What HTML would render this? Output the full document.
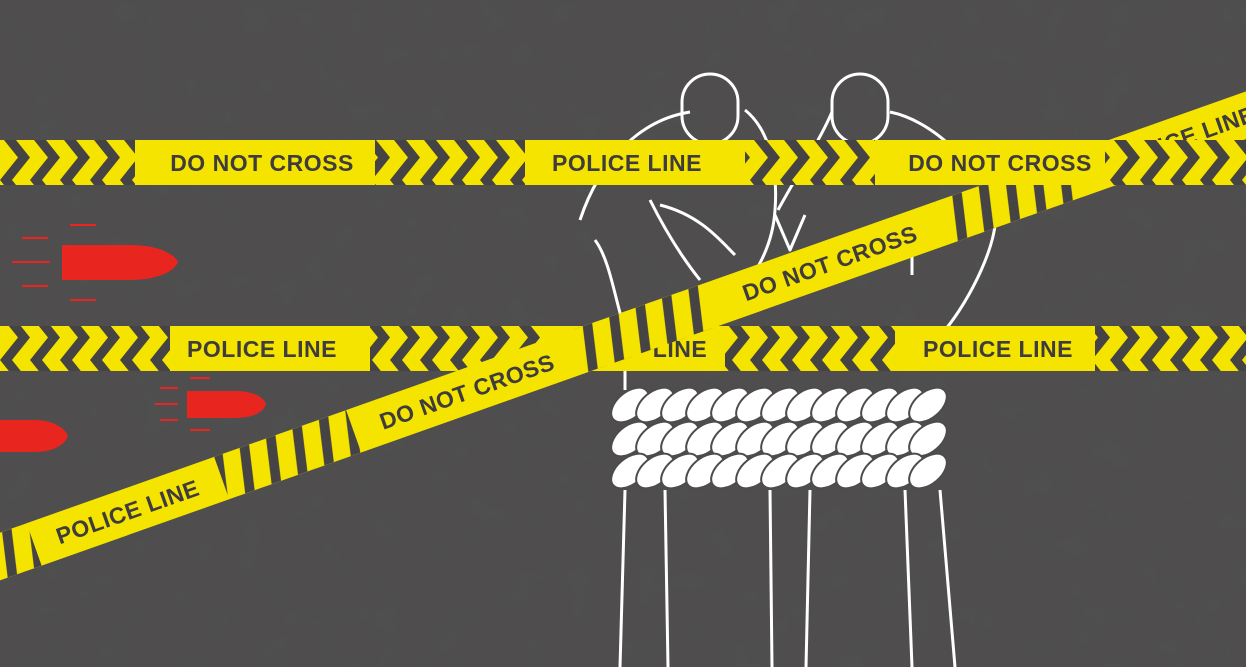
<!DOCTYPE html>
<html><head><meta charset="utf-8"><style>
html,body{margin:0;padding:0;background:#4a4849;}
svg{display:block}
text{font-family:"Liberation Sans",sans-serif;font-weight:bold;fill:#3e3c3d;letter-spacing:0.5px;}
</style></head><body>
<svg width="1246" height="667" viewBox="0 0 1246 667" xmlns="http://www.w3.org/2000/svg">
<defs>
<filter id="g"><feTurbulence type="fractalNoise" baseFrequency="0.03" numOctaves="5" seed="7"/><feColorMatrix values="0 0 0 0 0.08  0 0 0 0 0.08  0 0 0 0 0.08  0 0 0 -4 2.1"/></filter>
<pattern id="chev" width="30" height="45" patternUnits="userSpaceOnUse"><polygon points="0,0 12,0 30,22.5 12,45 0,45 18,22.5" fill="#454344"/></pattern>
<pattern id="diag" width="28" height="45" patternUnits="userSpaceOnUse"><polygon points="10,0 20,0 10,45 0,45" fill="#454344"/></pattern>
</defs>
<rect width="1246" height="667" fill="#4f4d4e"/>
<rect width="1246" height="667" filter="url(#g)" opacity="0.7"/>

<g fill="#e8261f">
<path d="M62,245 H130 C160,245 175,255 178,262 C175,270 160,280 130,280 H62Z"/>
<path d="M187,391 H235 C255,391 264,398 266,404 C264,411 255,418 235,418 H187Z"/>
<path d="M0,420 H35 C55,420 66,430 68,436 C66,443 55,452 35,452 H0Z"/>
</g>
<g stroke="#e8261f" stroke-width="2">
<line x1="22" y1="238" x2="48" y2="238"/><line x1="12" y1="262" x2="50" y2="262"/><line x1="22" y1="286" x2="48" y2="286"/>
<line x1="70" y1="225" x2="96" y2="225"/><line x1="70" y1="300" x2="96" y2="300"/>
<line x1="155" y1="404" x2="178" y2="404"/><line x1="160" y1="388" x2="178" y2="388"/><line x1="160" y1="420" x2="178" y2="420"/>
<line x1="190" y1="378" x2="210" y2="378"/><line x1="190" y1="430" x2="210" y2="430"/>
</g>

<g fill="none" stroke="#fff" stroke-width="3" stroke-linejoin="round">
<rect x="682" y="74" width="56" height="70" rx="28"/>
<rect x="832" y="74" width="56" height="70" rx="28"/>
<path d="M580,220 C600,160 640,120 690,112"/>
<path d="M595,240 C610,260 615,300 625,330 L625,390"/>
<path d="M650,200 C665,230 680,255 700,280"/>
<path d="M745,110 C770,130 778,170 775,210 C772,260 740,300 700,330"/>
<path d="M778,210 C800,170 820,140 832,112"/>
<path d="M890,112 C930,120 975,160 995,210 C1000,240 970,300 945,330"/>
<path d="M775,215 L790,250 L805,215"/>
<path d="M660,205 C700,215 720,240 735,255"/>
<path d="M912,230 L912,275"/>
<line x1="625" y1="490" x2="620" y2="667"/><line x1="665" y1="490" x2="668" y2="667"/>
<line x1="770" y1="490" x2="772" y2="667"/><line x1="810" y1="490" x2="806" y2="667"/>
<line x1="905" y1="490" x2="912" y2="667"/><line x1="940" y1="490" x2="955" y2="667"/>
</g>
<g fill="#fff" stroke="#4d4b4c" stroke-width="2">
<g id="r1">
<ellipse cx="630" cy="405" rx="13" ry="22" transform="rotate(50 630 405)"/>
<ellipse cx="655" cy="405" rx="13" ry="22" transform="rotate(50 655 405)"/>
<ellipse cx="680" cy="405" rx="13" ry="22" transform="rotate(50 680 405)"/>
<ellipse cx="705" cy="405" rx="13" ry="22" transform="rotate(50 705 405)"/>
<ellipse cx="730" cy="405" rx="13" ry="22" transform="rotate(50 730 405)"/>
<ellipse cx="755" cy="405" rx="13" ry="22" transform="rotate(50 755 405)"/>
<ellipse cx="780" cy="405" rx="13" ry="22" transform="rotate(50 780 405)"/>
<ellipse cx="805" cy="405" rx="13" ry="22" transform="rotate(50 805 405)"/>
<ellipse cx="830" cy="405" rx="13" ry="22" transform="rotate(50 830 405)"/>
<ellipse cx="855" cy="405" rx="13" ry="22" transform="rotate(50 855 405)"/>
<ellipse cx="880" cy="405" rx="13" ry="22" transform="rotate(50 880 405)"/>
<ellipse cx="905" cy="405" rx="13" ry="22" transform="rotate(50 905 405)"/>
<ellipse cx="928" cy="405" rx="13" ry="22" transform="rotate(50 928 405)"/>
</g>
<use href="#r1" y="34"/>
<use href="#r1" y="66"/>
</g>

<rect x="0" y="326" width="1246" height="45" fill="#f5e400"/>
<rect x="0" y="326" width="170" height="45" fill="url(#chev)"/>
<rect x="370" y="326" width="170" height="45" fill="url(#chev)"/>
<rect x="725" y="326" width="170" height="45" fill="url(#chev)"/>
<rect x="1095" y="326" width="151" height="45" fill="url(#chev)"/>
<text x="262" y="357" font-size="23" text-anchor="middle">POLICE LINE</text>
<text x="680" y="357" font-size="23" text-anchor="middle">LINE</text>
<text x="998" y="357" font-size="23" text-anchor="middle">POLICE LINE</text>

<g transform="translate(0,556) rotate(-19.5)">
<rect x="-20" y="-22" width="1400" height="45" fill="#f5e400"/>
<g transform="translate(0,-22)">
<rect x="-20" y="0" width="56" height="45" fill="url(#diag)"/>
<rect x="235" y="0" width="140" height="45" fill="url(#diag)"/>
<rect x="610" y="0" width="140" height="45" fill="url(#diag)"/>
<rect x="1000" y="0" width="140" height="45" fill="url(#diag)"/>
</g>
<text x="135" y="9" font-size="23" text-anchor="middle">POLICE LINE</text>
<text x="495" y="9" font-size="23" text-anchor="middle">DO NOT CROSS</text>
<text x="880" y="9" font-size="23" text-anchor="middle">DO NOT CROSS</text>
<text x="1255" y="9" font-size="23" text-anchor="middle">POLICE LINE</text>
</g>

<rect x="0" y="140" width="1246" height="45" fill="#f5e400"/>
<rect x="0" y="140" width="135" height="45" fill="url(#chev)"/>
<rect x="375" y="140" width="150" height="45" fill="url(#chev)"/>
<rect x="745" y="140" width="130" height="45" fill="url(#chev)"/>
<rect x="1105" y="140" width="141" height="45" fill="url(#chev)"/>
<text x="262" y="171" font-size="23" text-anchor="middle">DO NOT CROSS</text>
<text x="627" y="171" font-size="23" text-anchor="middle">POLICE LINE</text>
<text x="1000" y="171" font-size="23" text-anchor="middle">DO NOT CROSS</text>
</svg>
</body></html>
